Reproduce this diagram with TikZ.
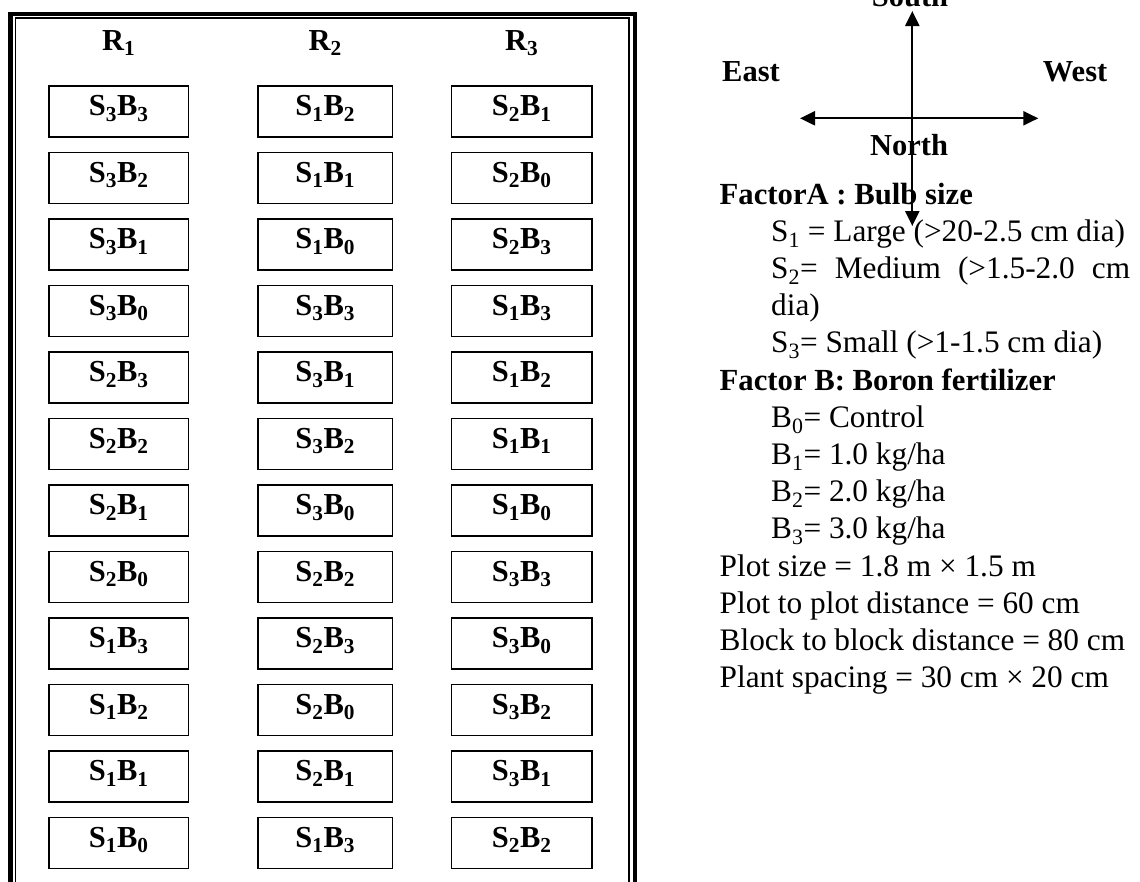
\documentclass[tikz,border=0pt]{standalone}
\usepackage{fontspec}
\setmainfont{Liberation Serif}
\usetikzlibrary{arrows.meta}
\newcommand{\pl}[2]{S\textsubscript{#1}B\textsubscript{#2}}
\tikzset{
  plotbox/.style={draw, line width=1.7pt, inner sep=0pt, minimum height=51pt,
    text height=18pt, text depth=10pt, font=\fontsize{30.5}{36}\selectfont\bfseries},
  reptitle/.style={anchor=base, inner sep=0pt, font=\fontsize{30.5}{36}\selectfont\bfseries},
  dirlabel/.style={inner sep=0pt, font=\fontsize{30.5}{36}\selectfont\bfseries},
  txt/.style={anchor=base west, inner sep=0pt, font=\fontsize{31.3}{37}\selectfont},
  hd/.style={anchor=base west, inner sep=0pt, font=\fontsize{30.7}{37}\selectfont\bfseries},
  frameouter/.style={line width=4.4pt},
  frameinner/.style={line width=1.8pt},
  compass/.style={line width=2.2pt, {Triangle[length=15pt,width=14pt]}-{Triangle[length=15pt,width=14pt]}}
}
\begin{document}
\begin{tikzpicture}[x=1pt,y=-1pt]
\useasboundingbox (0,0) rectangle (1140,881);
% frame
\draw[frameouter] (10.5,895) -- (10.5,13.9) -- (635,13.9) -- (635,895);
\draw[frameinner] (15.5,895) -- (15.5,18.3) -- (629.2,18.3) -- (629.2,895);
% replication titles
\node[reptitle] (r1) at (118.8,50) {R\textsubscript{1}};
\node[reptitle] (r2) at (325.3,50) {R\textsubscript{2}};
\node[reptitle] (r3) at (521.7,50) {R\textsubscript{3}};
% plots
\foreach \s/\b [count=\i from 0] in {3/3,3/2,3/1,3/0,2/3,2/2,2/1,2/0,1/3,1/2,1/1,1/0}
  \node[plotbox, minimum width=139.5pt] (a\i) at (118.8,{111.5+66.5*\i}) {\pl{\s}{\b}};
\foreach \s/\b [count=\i from 0] in {1/2,1/1,1/0,3/3,3/1,3/2,3/0,2/2,2/3,2/0,2/1,1/3}
  \node[plotbox, minimum width=134.5pt] (b\i) at (325.3,{111.5+66.5*\i}) {\pl{\s}{\b}};
\foreach \s/\b [count=\i from 0] in {2/1,2/0,2/3,1/3,1/2,1/1,1/0,3/3,3/0,3/2,3/1,2/2}
  \node[plotbox, minimum width=140.5pt] (c\i) at (521.7,{111.5+66.5*\i}) {\pl{\s}{\b}};
% compass labels
\node[dirlabel, anchor=base] (south) at (910,6) {South};
\node[dirlabel, anchor=base west] (east) at (722,81.7) {East};
\node[dirlabel, anchor=base west] (west) at (1042.7,81.7) {West};
\node[dirlabel, anchor=base] (north) at (909,155) {North};
% legend text
\node[hd] (fa) at (719.5,204) {FactorA : Bulb size};
\node[txt] (s1) at (771,241.2) {S\textsubscript{1} = Large (>20-2.5 cm dia)};
\node[txt] (s2) at (771,278.4) {\makebox[359pt][s]{S\textsubscript{2}= Medium (>1.5-2.0 cm}};
\node[txt] (s2b) at (771,315.6) {dia)};
\node[txt] (s3) at (771,352.8) {S\textsubscript{3}= Small (>1-1.5 cm dia)};
\node[hd] (fb) at (719.5,390) {Factor B: Boron fertilizer};
\node[txt] (b0l) at (771,427.2) {B\textsubscript{0}= Control};
\node[txt] (b1l) at (771,464.4) {B\textsubscript{1}= 1.0 kg/ha};
\node[txt] (b2l) at (771,501.6) {B\textsubscript{2}= 2.0 kg/ha};
\node[txt] (b3l) at (771,538.8) {B\textsubscript{3}= 3.0 kg/ha};
\node[txt] (ps) at (719.5,576) {Plot size = 1.8 m × 1.5 m};
\node[txt] (pp) at (719.5,613.2) {Plot to plot distance = 60 cm};
\node[txt] (bb) at (719.5,650.4) {Block to block distance = 80 cm};
\node[txt] (sp) at (719.5,687.6) {Plant spacing = 30 cm × 20 cm};
% compass arrows
\coordinate (ctop) at (912.3,11);
\coordinate (cbot) at (912.3,226);
\coordinate (cleft) at (800,118.3);
\coordinate (cright) at (1038.3,118.3);
\draw[compass] (cbot) -- (ctop);
\draw[compass] (cleft) -- (cright);
\end{tikzpicture}
\end{document}
